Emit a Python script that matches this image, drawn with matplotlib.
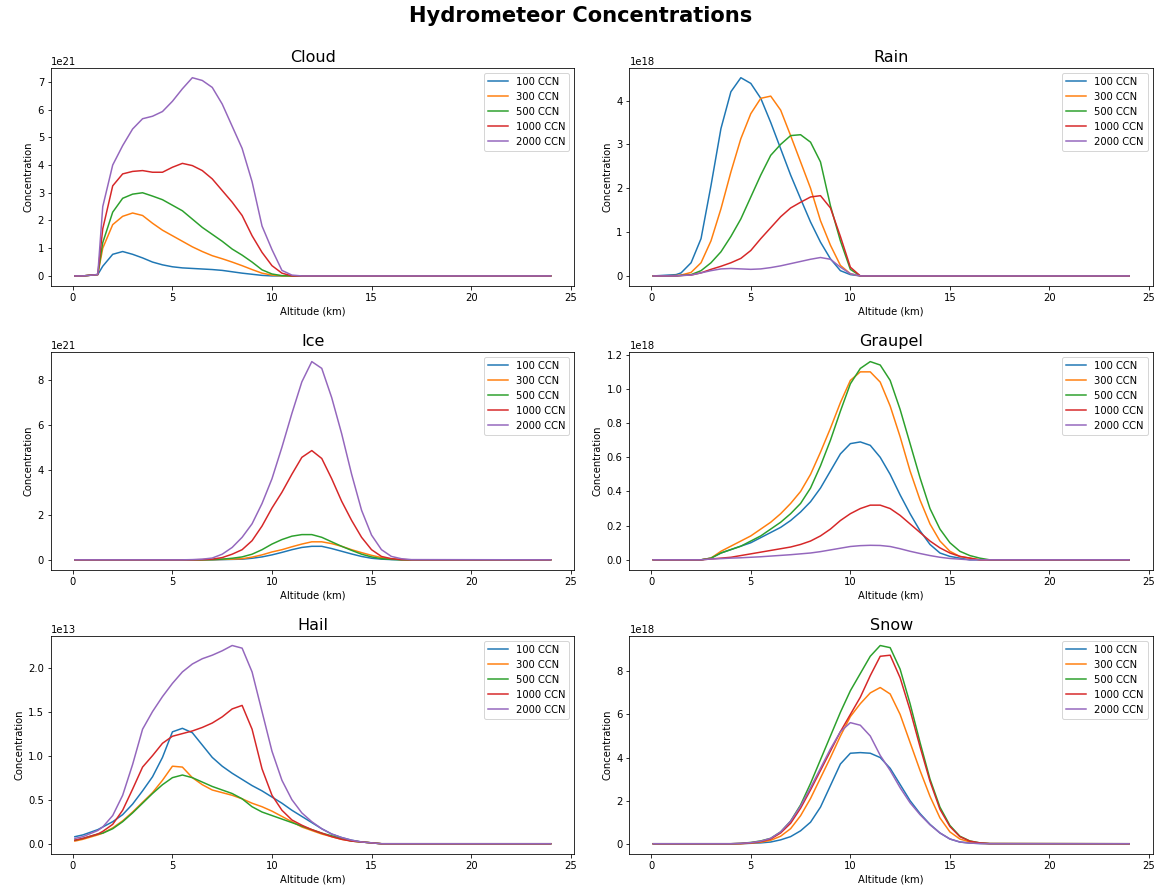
"""Hydrometeor concentration profiles for several CCN counts."""
import matplotlib
matplotlib.use("Agg")
import matplotlib.pyplot as plt

# Altitude grid (km), shared by every profile
ALT = [0.1, 0.5, 1.25, 1.5, 2.0, 2.5, 3.0, 3.5, 4.0, 4.5, 5.0, 5.5, 6.0, 6.5,
       7.0, 7.5, 8.0, 8.5, 9.0, 9.5, 10.0, 10.5, 11.0, 11.5, 12.0, 12.5, 13.0,
       13.5, 14.0, 14.5, 15.0, 15.5, 16.0, 16.5, 17.0, 24.0]

CCN_LABELS = ["100 CCN", "300 CCN", "500 CCN", "1000 CCN", "2000 CCN"]

# Cloud, units of 1e21
CLOUD = [
    [0, 0, 0.05, 0.35, 0.78, 0.88, 0.78, 0.65, 0.50, 0.40, 0.33, 0.29, 0.27, 0.25,
     0.23, 0.20, 0.15, 0.10, 0.06, 0.02, 0, 0, 0, 0, 0, 0, 0, 0, 0, 0, 0, 0, 0, 0, 0, 0],
    [0, 0, 0.05, 1.0, 1.85, 2.15, 2.27, 2.18, 1.90, 1.65, 1.45, 1.25, 1.05, 0.88,
     0.73, 0.62, 0.50, 0.37, 0.23, 0.10, 0.03, 0, 0, 0, 0, 0, 0, 0, 0, 0, 0, 0, 0, 0, 0, 0],
    [0, 0, 0.05, 1.2, 2.3, 2.8, 2.95, 3.0, 2.88, 2.75, 2.55, 2.35, 2.05, 1.75,
     1.50, 1.25, 0.97, 0.75, 0.50, 0.22, 0.07, 0.01, 0, 0, 0, 0, 0, 0, 0, 0, 0, 0, 0, 0, 0, 0],
    [0, 0, 0.05, 1.7, 3.25, 3.68, 3.77, 3.80, 3.74, 3.74, 3.92, 4.06, 3.98, 3.80,
     3.50, 3.08, 2.66, 2.18, 1.45, 0.85, 0.37, 0.10, 0, 0, 0, 0, 0, 0, 0, 0, 0, 0, 0, 0, 0, 0],
    [0, 0, 0.05, 2.5, 4.0, 4.7, 5.3, 5.67, 5.76, 5.93, 6.3, 6.75, 7.15, 7.05,
     6.8, 6.2, 5.4, 4.6, 3.4, 1.8, 0.95, 0.2, 0.03, 0, 0, 0, 0, 0, 0, 0, 0, 0, 0, 0, 0, 0],
]

# Rain, units of 1e18
RAIN = [
    [0, 0.01, 0.03, 0.07, 0.30, 0.85, 2.06, 3.36, 4.20, 4.52, 4.39, 4.05, 3.50, 2.90,
     2.30, 1.76, 1.23, 0.77, 0.39, 0.12, 0.03, 0, 0, 0, 0, 0, 0, 0, 0, 0, 0, 0, 0, 0, 0, 0],
    [0, 0, 0.01, 0.02, 0.08, 0.30, 0.80, 1.53, 2.37, 3.13, 3.70, 4.05, 4.10, 3.78,
     3.20, 2.60, 2.00, 1.26, 0.70, 0.24, 0.05, 0, 0, 0, 0, 0, 0, 0, 0, 0, 0, 0, 0, 0, 0, 0],
    [0, 0, 0, 0.01, 0.03, 0.12, 0.30, 0.55, 0.90, 1.30, 1.80, 2.30, 2.75, 3.00,
     3.20, 3.22, 3.05, 2.60, 1.60, 0.80, 0.15, 0, 0, 0, 0, 0, 0, 0, 0, 0, 0, 0, 0, 0, 0, 0],
    [0, 0, 0, 0.01, 0.02, 0.07, 0.15, 0.22, 0.30, 0.40, 0.58, 0.85, 1.10, 1.35,
     1.55, 1.68, 1.80, 1.83, 1.55, 0.90, 0.20, 0, 0, 0, 0, 0, 0, 0, 0, 0, 0, 0, 0, 0, 0, 0],
    [0, 0, 0, 0.01, 0.02, 0.07, 0.12, 0.16, 0.17, 0.16, 0.15, 0.16, 0.19, 0.23,
     0.28, 0.33, 0.38, 0.42, 0.38, 0.20, 0.05, 0, 0, 0, 0, 0, 0, 0, 0, 0, 0, 0, 0, 0, 0, 0],
]

# Ice, units of 1e21
ICE = [
    [0, 0, 0, 0, 0, 0, 0, 0, 0, 0, 0, 0, 0, 0, 0, 0.01, 0.02, 0.03, 0.07, 0.13,
     0.22, 0.33, 0.45, 0.55, 0.60, 0.60, 0.50, 0.38, 0.26, 0.15, 0.07, 0.03, 0.01, 0, 0, 0],
    [0, 0, 0, 0, 0, 0, 0, 0, 0, 0, 0, 0, 0, 0, 0.01, 0.02, 0.03, 0.05, 0.12, 0.22,
     0.35, 0.45, 0.58, 0.70, 0.80, 0.80, 0.72, 0.60, 0.45, 0.32, 0.20, 0.10, 0.04, 0.01, 0, 0],
    [0, 0, 0, 0, 0, 0, 0, 0, 0, 0, 0, 0, 0, 0, 0.01, 0.03, 0.07, 0.13, 0.25, 0.45,
     0.70, 0.90, 1.05, 1.12, 1.12, 1.00, 0.80, 0.60, 0.42, 0.25, 0.13, 0.05, 0.02, 0, 0, 0],
    [0, 0, 0, 0, 0, 0, 0, 0, 0, 0, 0, 0, 0, 0.01, 0.03, 0.10, 0.25, 0.45, 0.85, 1.50,
     2.30, 3.00, 3.80, 4.55, 4.85, 4.50, 3.60, 2.60, 1.75, 1.00, 0.45, 0.15, 0.05, 0.01, 0, 0],
    [0, 0, 0, 0, 0, 0, 0, 0, 0, 0, 0, 0, 0.01, 0.03, 0.08, 0.25, 0.55, 1.00, 1.60, 2.50,
     3.60, 5.00, 6.50, 7.90, 8.80, 8.50, 7.20, 5.60, 3.80, 2.20, 1.10, 0.45, 0.15, 0.05, 0.01, 0],
]

# Graupel, units of 1e18
GRAUPEL = [
    [0, 0, 0, 0, 0, 0, 0.01, 0.04, 0.06, 0.08, 0.10, 0.13, 0.16, 0.19, 0.23, 0.28,
     0.34, 0.42, 0.52, 0.62, 0.68, 0.69, 0.67, 0.60, 0.50, 0.38, 0.27, 0.17, 0.09,
     0.04, 0.02, 0.01, 0, 0, 0, 0],
    [0, 0, 0, 0, 0, 0, 0.01, 0.05, 0.08, 0.11, 0.14, 0.18, 0.22, 0.27, 0.33, 0.40,
     0.50, 0.63, 0.77, 0.92, 1.05, 1.10, 1.10, 1.04, 0.90, 0.72, 0.52, 0.35, 0.21,
     0.11, 0.05, 0.02, 0.01, 0, 0, 0],
    [0, 0, 0, 0, 0, 0, 0.01, 0.04, 0.06, 0.08, 0.11, 0.14, 0.18, 0.22, 0.27, 0.33,
     0.42, 0.55, 0.70, 0.87, 1.03, 1.12, 1.16, 1.14, 1.05, 0.88, 0.68, 0.48, 0.30,
     0.18, 0.10, 0.05, 0.025, 0.01, 0, 0],
    [0, 0, 0, 0, 0, 0, 0.005, 0.01, 0.015, 0.025, 0.035, 0.045, 0.055, 0.065, 0.075,
     0.09, 0.11, 0.14, 0.18, 0.23, 0.27, 0.30, 0.32, 0.32, 0.30, 0.26, 0.21, 0.16,
     0.11, 0.07, 0.04, 0.02, 0.01, 0, 0, 0],
    [0, 0, 0, 0, 0, 0, 0.005, 0.007, 0.01, 0.012, 0.015, 0.018, 0.022, 0.026, 0.03,
     0.035, 0.04, 0.048, 0.058, 0.068, 0.078, 0.083, 0.085, 0.084, 0.078, 0.065, 0.05,
     0.037, 0.025, 0.015, 0.008, 0.004, 0, 0, 0, 0],
]

# Hail, units of 1e13
HAIL = [
    [0.08, 0.10, 0.16, 0.19, 0.25, 0.33, 0.45, 0.60, 0.76, 0.98, 1.27, 1.31, 1.26, 1.12,
     0.98, 0.88, 0.80, 0.73, 0.66, 0.60, 0.53, 0.46, 0.38, 0.31, 0.24, 0.17, 0.11,
     0.07, 0.04, 0.02, 0.01, 0, 0, 0, 0, 0],
    [0.03, 0.05, 0.10, 0.12, 0.18, 0.26, 0.36, 0.47, 0.58, 0.72, 0.88, 0.87, 0.75, 0.67,
     0.61, 0.58, 0.55, 0.51, 0.46, 0.42, 0.37, 0.31, 0.25, 0.19, 0.15, 0.11, 0.08,
     0.05, 0.03, 0.02, 0.01, 0, 0, 0, 0, 0],
    [0.04, 0.06, 0.11, 0.12, 0.17, 0.25, 0.35, 0.46, 0.57, 0.67, 0.75, 0.78, 0.75, 0.70,
     0.65, 0.61, 0.57, 0.51, 0.42, 0.36, 0.32, 0.28, 0.24, 0.20, 0.16, 0.12, 0.09,
     0.06, 0.03, 0.02, 0.01, 0, 0, 0, 0, 0],
    [0.04, 0.06, 0.11, 0.14, 0.22, 0.38, 0.62, 0.87, 1.00, 1.14, 1.22, 1.25, 1.28, 1.32,
     1.37, 1.44, 1.53, 1.57, 1.30, 0.85, 0.55, 0.38, 0.27, 0.21, 0.16, 0.12, 0.08,
     0.05, 0.03, 0.02, 0.01, 0, 0, 0, 0, 0],
    [0.06, 0.08, 0.15, 0.19, 0.32, 0.55, 0.90, 1.30, 1.50, 1.67, 1.82, 1.95, 2.04, 2.10,
     2.14, 2.19, 2.25, 2.22, 1.95, 1.50, 1.05, 0.72, 0.50, 0.35, 0.25, 0.17, 0.11,
     0.07, 0.04, 0.02, 0.01, 0, 0, 0, 0, 0],
]

# Snow, units of 1e18
SNOW = [
    [0, 0, 0, 0, 0, 0, 0, 0, 0, 0, 0.02, 0.04, 0.08, 0.18, 0.33, 0.60, 1.00, 1.70,
     2.70, 3.70, 4.20, 4.23, 4.20, 4.00, 3.50, 2.75, 2.00, 1.40, 0.90, 0.50, 0.22,
     0.08, 0.03, 0.01, 0, 0],
    [0, 0, 0, 0, 0, 0, 0, 0, 0, 0, 0.03, 0.07, 0.16, 0.35, 0.70, 1.30, 2.10, 3.05,
     4.00, 5.00, 5.90, 6.50, 7.00, 7.25, 6.95, 6.00, 4.70, 3.40, 2.20, 1.20, 0.55,
     0.22, 0.08, 0.02, 0, 0],
    [0, 0, 0, 0, 0, 0, 0, 0, 0, 0.02, 0.06, 0.13, 0.25, 0.55, 1.05, 1.80, 2.80, 3.90,
     5.00, 6.10, 7.10, 7.90, 8.70, 9.20, 9.10, 8.10, 6.50, 4.70, 3.00, 1.70, 0.85,
     0.35, 0.13, 0.04, 0.01, 0],
    [0, 0, 0, 0, 0, 0, 0, 0, 0, 0.01, 0.04, 0.10, 0.22, 0.50, 0.95, 1.65, 2.50, 3.40,
     4.30, 5.20, 6.00, 6.80, 7.80, 8.70, 8.75, 7.70, 6.20, 4.50, 2.90, 1.60, 0.80,
     0.33, 0.12, 0.04, 0.01, 0],
    [0, 0, 0, 0, 0, 0, 0, 0, 0, 0.02, 0.05, 0.12, 0.25, 0.55, 1.05, 1.75, 2.60, 3.50,
     4.40, 5.20, 5.62, 5.50, 5.00, 4.10, 3.40, 2.60, 1.90, 1.35, 0.88, 0.50, 0.22,
     0.08, 0.03, 0.01, 0, 0],
]

PANELS = [
    ("Cloud", CLOUD, 1e21),
    ("Rain", RAIN, 1e18),
    ("Ice", ICE, 1e21),
    ("Graupel", GRAUPEL, 1e18),
    ("Hail", HAIL, 1e13),
    ("Snow", SNOW, 1e18),
]


def main() -> None:
    fig, axes = plt.subplots(3, 2, figsize=(1161 / 72, 892 / 72), dpi=72)
    fig.subplots_adjust(left=0.044, right=0.993, top=0.924, bottom=0.043,
                        wspace=0.105, hspace=0.302)
    fig.suptitle("Hydrometeor Concentrations", fontsize=21, fontweight="bold",
                 y=0.993)

    for ax, (name, series, scale) in zip(axes.flat, PANELS):
        for label, values in zip(CCN_LABELS, series):
            ax.plot(ALT, [v * scale for v in values], label=label)
        ax.set_title(name, fontsize=16)
        ax.set_xlabel("Altitude (km)")
        ax.set_ylabel("Concentration")
        ax.legend(loc="upper right")

    fig.savefig("out.png", dpi=72)


if __name__ == "__main__":
    main()
